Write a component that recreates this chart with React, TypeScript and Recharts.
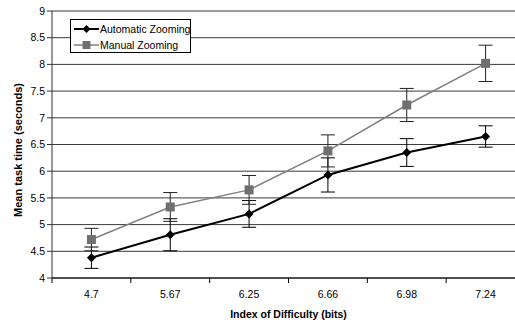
import { LineChart, Line, XAxis, YAxis, CartesianGrid, ErrorBar } from "recharts";

const categories = ["4.7", "5.67", "6.25", "6.66", "6.98", "7.24"];
const autoTimes = [4.38, 4.81, 5.2, 5.93, 6.35, 6.65];
const autoErr = [0.2, 0.3, 0.25, 0.32, 0.26, 0.2];
const manualTimes = [4.72, 5.33, 5.65, 6.38, 7.24, 8.02];
const manualErr = [0.21, 0.27, 0.27, 0.3, 0.31, 0.34];
const yTicks = [4, 4.5, 5, 5.5, 6, 6.5, 7, 7.5, 8, 8.5, 9];
const xTicks = [0, 1, 2, 3, 4, 5, 6];
const seriesNames = ["Automatic Zooming", "Manual Zooming"];

const AUTO = "#000000";
const MANUAL = "#808080";
const MANUAL_MARK = "#6f6f6f";
const FONT = "'Liberation Sans', Arial, sans-serif";

const W = 535;
const H = 325;
const PLOT_LEFT = 52;
const PLOT_RIGHT = 10;
const BAND = (W - PLOT_LEFT - PLOT_RIGHT) / categories.length;

const data = categories.map((c, i) => ({
  x: i + 0.5,
  label: c,
  auto: autoTimes[i],
  autoErr: autoErr[i],
  manual: manualTimes[i],
  manualErr: manualErr[i],
}));

function renderDiamond(props: any) {
  const { cx, cy, index } = props;
  if (cx == null || cy == null) return <g key={`d-${index}`} />;
  const r = 4.5;
  return (
    <path
      key={`d-${index}`}
      d={`M${cx},${cy - r}L${cx + r},${cy}L${cx},${cy + r}L${cx - r},${cy}Z`}
      fill={AUTO}
      stroke="none"
    />
  );
}

function renderSquare(props: any) {
  const { cx, cy, index } = props;
  if (cx == null || cy == null) return <g key={`s-${index}`} />;
  const r = 4.5;
  return <rect key={`s-${index}`} x={cx - r} y={cy - r} width={r * 2} height={r * 2} fill={MANUAL_MARK} />;
}

function XTick(props: any) {
  const { x, y, payload } = props;
  const label = categories[payload.value];
  if (label == null) return <g />;
  return (
    <text x={x + BAND / 2} y={y} dy="0.71em" textAnchor="middle" fontSize={10.5} fill="#000" fontFamily={FONT}>
      {label}
    </text>
  );
}

function YTitle() {
  return (
    <text
      x={18}
      y={150}
      transform="rotate(-90 18 150)"
      textAnchor="middle"
      dominantBaseline="central"
      fontSize={11}
      fontWeight="bold"
      fill="#000"
      fontFamily={FONT}
    >
      Mean task time (seconds)
    </text>
  );
}

function LegendBox() {
  return (
    <div
      style={{
        position: "absolute",
        left: 70,
        top: 19,
        border: "1px solid #000",
        background: "#fff",
        width: 121,
        height: 34,
        boxSizing: "border-box",
        fontFamily: FONT,
        fontSize: 10.5,
        color: "#000",
        paddingTop: 1,
        whiteSpace: "nowrap",
      }}
    >
      {seriesNames.map((name, i) => (
        <div key={name} style={{ display: "flex", alignItems: "center", height: 16 }}>
          <svg width={27} height={12} style={{ marginLeft: 2, flex: "none" }}>
            <line x1={1} y1={6} x2={26} y2={6} stroke={i === 0 ? AUTO : MANUAL} strokeWidth={i === 0 ? 2 : 1.5} />
            {i === 0 ? (
              <path d="M13.5,2L17.5,6L13.5,10L9.5,6Z" fill={AUTO} />
            ) : (
              <rect x={9.5} y={2} width={8} height={8} fill={MANUAL_MARK} />
            )}
          </svg>
          <span>{name}</span>
        </div>
      ))}
    </div>
  );
}

export default function App() {
  return (
    <div
      style={{
        position: "absolute",
        left: 0,
        top: 0,
        width: 515,
        height: 325,
        overflow: "hidden",
        background: "#fff",
      }}
    >
      <LineChart width={W} height={H} data={data} margin={{ top: 11, right: PLOT_RIGHT, left: 0, bottom: 0 }}>
        <CartesianGrid vertical={false} stroke="#3a3a3a" horizontalValues={yTicks} />
        <XAxis
          dataKey="x"
          type="number"
          domain={[0, 6]}
          ticks={xTicks}
          interval={0}
          height={47}
          tickSize={5}
          tickMargin={8}
          tick={<XTick />}
          axisLine={{ stroke: "#000" }}
          tickLine={{ stroke: "#000" }}
          label={{
            value: "Index of Difficulty (bits)",
            position: "insideBottom",
            offset: 7,
            style: { fontSize: 10.5, fontWeight: "bold", fill: "#000", fontFamily: FONT },
          }}
        />
        <YAxis
          type="number"
          domain={[4, 9]}
          ticks={yTicks}
          interval={0}
          width={PLOT_LEFT}
          tickSize={5}
          tickMargin={2}
          tick={{ fontSize: 10.5, fill: "#000", fontFamily: FONT }}
          axisLine={{ stroke: "#333" }}
          tickLine={{ stroke: "#333" }}
          label={<YTitle />}
        />
        <Line
          type="linear"
          dataKey="auto"
          name={seriesNames[0]}
          stroke={AUTO}
          strokeWidth={2}
          dot={renderDiamond}
          activeDot={false}
          isAnimationActive={false}
        >
          <ErrorBar dataKey="autoErr" direction="y" width={7} stroke="#000" strokeWidth={1} />
        </Line>
        <Line
          type="linear"
          dataKey="manual"
          name={seriesNames[1]}
          stroke={MANUAL}
          strokeWidth={1.5}
          dot={renderSquare}
          activeDot={false}
          isAnimationActive={false}
        >
          <ErrorBar dataKey="manualErr" direction="y" width={7} stroke="#222" strokeWidth={1} />
        </Line>
      </LineChart>
      <LegendBox />
    </div>
  );
}
